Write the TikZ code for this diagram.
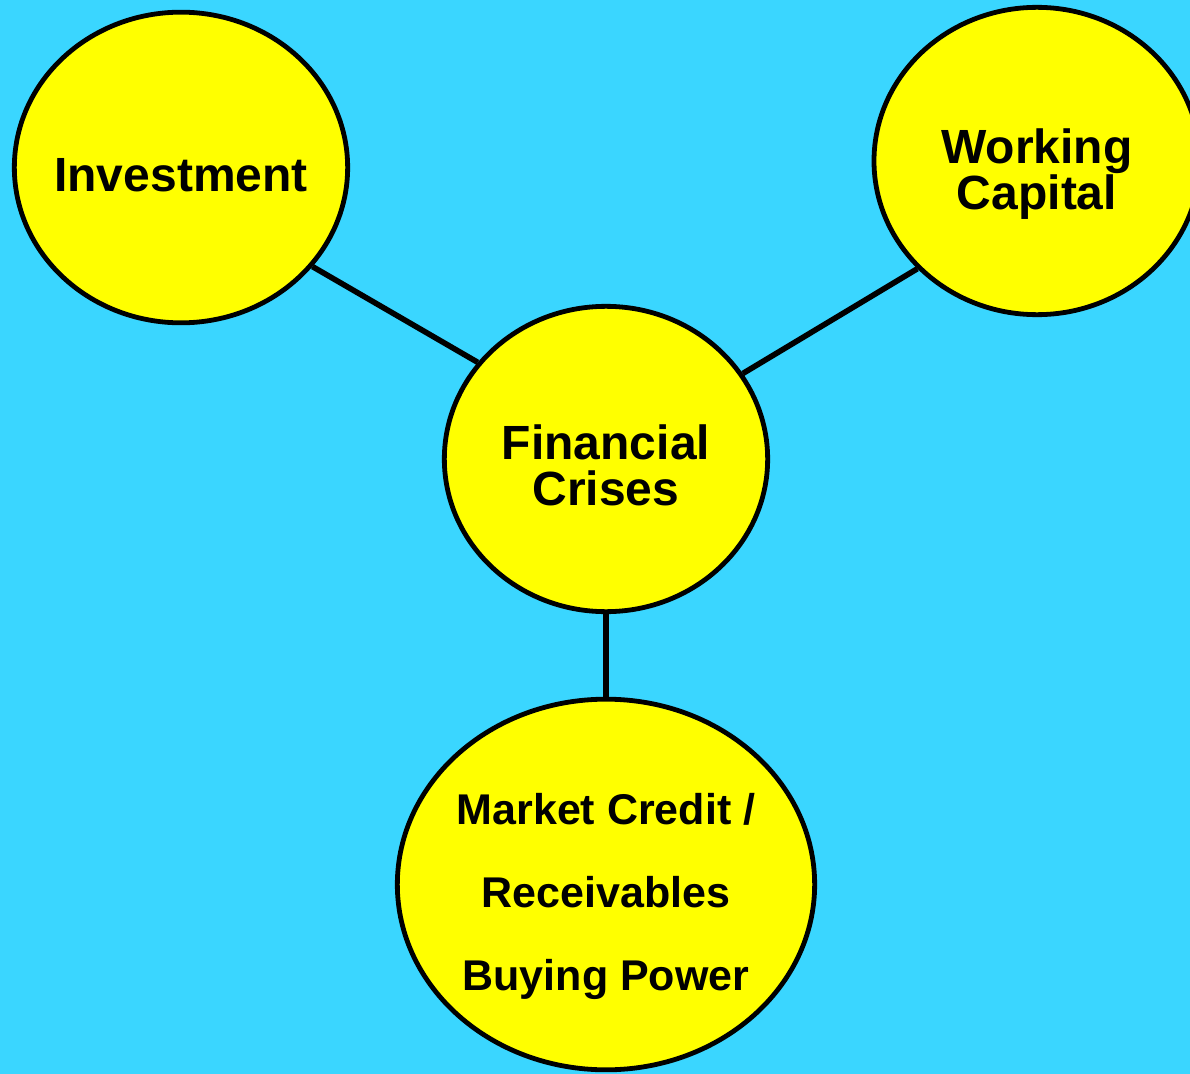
\documentclass[tikz,border=0pt]{standalone}
\usepackage{fontspec}
\setmainfont{Liberation Sans}
\usepackage{xcolor}
\usepackage{tikz}
\usetikzlibrary{shapes.geometric,calc,positioning}
\definecolor{skyblue}{RGB}{58,214,255}
\definecolor{bubble}{RGB}{255,255,0}
% strut on the first line, pushes the text down in its bubble
\newcommand{\topstrut}[1]{\rule{0pt}{#1}}

\begin{document}
\begin{tikzpicture}[x = 0.75pt, y = -0.75pt]
	\tikzstyle{every node} = [ellipse, draw = black, line width = 3.6pt, fill = bubble, inner sep = -12pt, align = center, font = \bfseries\fontsize{36}{34.5}\selectfont]
\useasboundingbox (0, 0) rectangle (1190, 1074);
\fill[skyblue] (0, 0) rectangle (1190, 1074);

\node[minimum width = 250pt, minimum height = 233pt] (0) at (181, 167.5) {\topstrut{36.3pt}Investment};
\node[minimum width = 244.5pt, minimum height = 230.5pt] (1) at (1037, 161) {\topstrut{45.3pt}Working\\Capital};
\node[minimum width = 242.5pt, minimum height = 229pt] (2) at (606, 459) {\topstrut{36.3pt}Financial\\Crises};
\node[minimum width = 313pt, minimum height = 278pt, font = \bfseries\fontsize{32.25}{62}\selectfont] (3) at (606, 884.5) {\topstrut{41.1pt}Market Credit /\\Receivables\\Buying Power};

	\path[draw, line width = 4.2pt] (0.-37) -- (2.143);
	\path[draw, line width = 4.2pt] (1.222) -- (2.32);
	\path[draw, line width = 4.2pt] (2.south) -- (3.north);
	\end{tikzpicture}
\end{document}
